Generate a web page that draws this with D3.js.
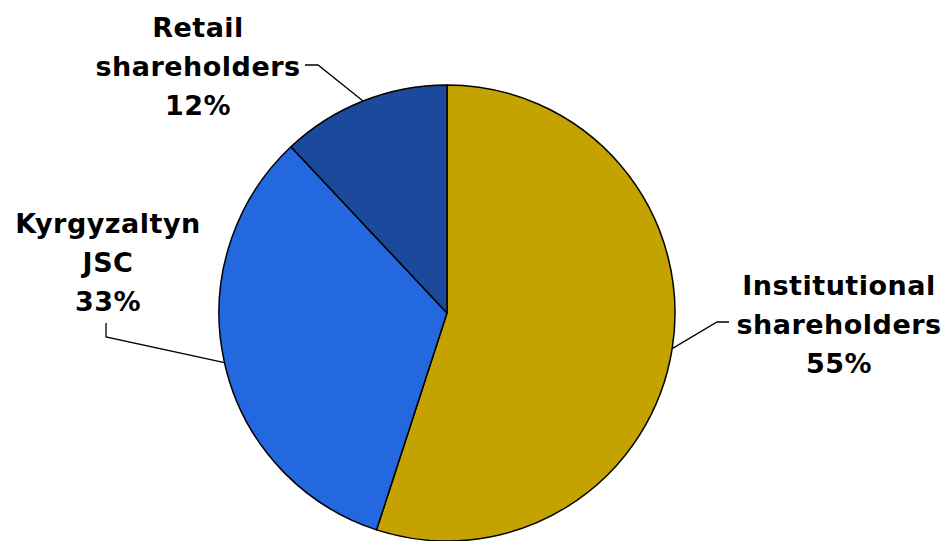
<!DOCTYPE html>
<html><head><meta charset="utf-8">
<script src="https://cdn.jsdelivr.net/npm/d3@7"></script>
<style>
html,body{margin:0;padding:0;background:#fff;}
svg{display:block;}
text{font-family:"DejaVu Sans",Verdana,sans-serif;font-weight:bold;font-size:27px;letter-spacing:0.5px;fill:#000;}
</style></head>
<body>
<svg id="chart" width="944" height="541"></svg>
<script>
const categories = ["Institutional shareholders", "Kyrgyzaltyn JSC", "Retail shareholders"];
const labelLines = [["Institutional", "shareholders", "55%"], ["Kyrgyzaltyn", "JSC", "33%"], ["Retail", "shareholders", "12%"]];
const values = [55, 33, 12];
const colors = ["#C4A200", "#2468E0", "#1B4A9C"];

// layout (label anchor centre x, first baseline y, elbow point of leader)
const labelLayout = [
  {x: 839, y: 295, elbow: [717, 322], start: [729, 322]},
  {x: 108, y: 233, elbow: [106, 337], start: [106, 323]},
  {x: 198, y: 37, elbow: [318, 65], start: [305, 65]}
];
const lineH = 39;

const svg = d3.select("#chart");
const cx = 447, cy = 313, r = 228;
const g = svg.append("g").attr("transform", `translate(${cx},${cy})`);

const pie = d3.pie().sort(null).value(d => d).startAngle(0).endAngle(2 * Math.PI);
const arcs = pie(values);
const arc = d3.arc().innerRadius(0).outerRadius(r);

g.selectAll("path.slice").data(arcs).enter().append("path")
  .attr("class", "slice")
  .attr("d", arc)
  .attr("fill", (d, i) => colors[i])
  .attr("stroke", "#000")
  .attr("stroke-width", 1.5)
  .attr("stroke-linejoin", "round");

// leader lines
arcs.forEach((d, i) => {
  const a = (d.startAngle + d.endAngle) / 2;
  const px = cx + r * Math.sin(a), py = cy - r * Math.cos(a);
  const L = labelLayout[i];
  svg.append("polyline")
    .attr("points", [L.start, L.elbow, [px, py]].map(p => p.join(",")).join(" "))
    .attr("fill", "none").attr("stroke", "#000").attr("stroke-width", 1.3);
});

// labels
labelLines.forEach((lines, i) => {
  const L = labelLayout[i];
  const t = svg.append("text").attr("text-anchor", "middle");
  lines.forEach((s, j) => {
    t.append("tspan").attr("x", L.x).attr("y", L.y + j * lineH).text(s);
  });
});
</script>
</body></html>
